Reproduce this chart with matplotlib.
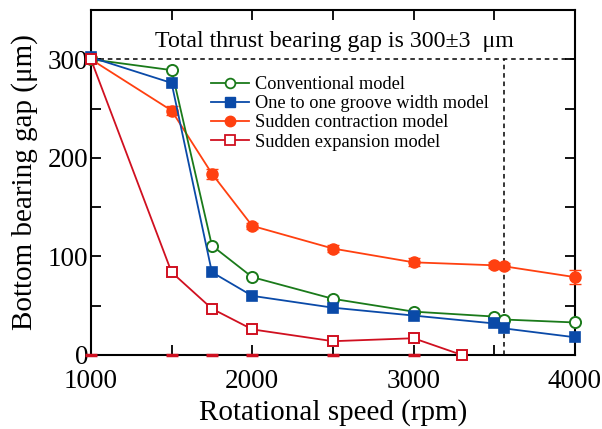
import matplotlib
matplotlib.use("Agg")
import matplotlib.pyplot as plt
from matplotlib.lines import Line2D

plt.rcParams['font.family'] = ['Liberation Serif', 'DejaVu Serif']
plt.rcParams['mathtext.fontset'] = 'stix'

speed = [1000, 1500, 1750, 2000, 2500, 3000, 3500, 3560, 4000]
conventional = [300, 289, 111, 79, 57, 44, 39, 36, 33]
one_to_one = [302, 276, 84, 60, 48, 40, 32, 27, 18]
contraction = [300, 248, 184, 131, 108, 94, 91, 90, 79]
contraction_err = [3, 5, 5, 3, 4, 4, 3, 3, 7]
expansion_speed = [1000, 1500, 1750, 2000, 2500, 3000, 3300]
expansion = [300, 84, 47, 26, 14, 17, 0]
zero_speed = [1000, 1500, 1750, 2000, 2500, 3000]
zero_vals = [0, 0, 0, 0, 0, 0]
gap_total = 300
limit_speed = 3560

fig = plt.figure(figsize=(6.02, 4.29), dpi=100)
ax = fig.add_axes([0.151, 0.1725, 0.804, 0.8042])

green = '#1a7a1a'
blue = '#0a4aa8'
orange = '#ff4010'
red = '#d01020'

ax.plot([1000, 4000], [gap_total, gap_total], ls=(0, (3, 2.5)), color='black', lw=1.1, zorder=1)
ax.plot([limit_speed, limit_speed], [0, gap_total], ls=(0, (3, 2.5)), color='black', lw=1.1, zorder=1)

ax.plot(zero_speed, zero_vals, ls='none', marker='_', ms=9, mew=2.5, color=red, clip_on=False, zorder=3)

ax.plot(speed, conventional, '-o', color=green, mfc='white', mec=green, ms=8, mew=1.4, lw=1.3,
        clip_on=False, zorder=5)
ax.plot(speed, one_to_one, '-s', color=blue, mfc=blue, mec=blue, ms=7.5, mew=1.2, lw=1.3,
        clip_on=False, zorder=5)
ax.errorbar(speed, contraction, yerr=contraction_err, fmt='-o', color=orange, mfc=orange, mec=orange,
            ms=8, lw=1.3, capsize=4, elinewidth=1.3, clip_on=False, zorder=4)
ax.plot(expansion_speed, expansion, '-s', color=red, mfc='white', mec=red, ms=7.5, mew=1.4, lw=1.3,
        clip_on=False, zorder=5)

ax.set_xlim(1000, 4000)
ax.set_ylim(0, 350)
ax.set_xticks([1000, 2000, 3000, 4000])
ax.set_xticks([1500, 2500, 3500], minor=True)
ax.set_yticks([0, 100, 200, 300])
ax.set_yticks([50, 150, 250], minor=True)
ax.tick_params(which='both', direction='in', top=True, right=True, width=1.3, labelsize=19.5, pad=2)
ax.tick_params(axis='x', which='both', pad=10)
ax.tick_params(which='major', length=7)
ax.tick_params(which='minor', length=7)
for s in ax.spines.values():
    s.set_linewidth(1.5)

ax.set_xlabel('Rotational speed (rpm)', fontsize=21, labelpad=4)
ax.set_ylabel('Bottom bearing gap (μm)', fontsize=21, labelpad=7)

ax.text(2510, 318, 'Total thrust bearing gap is 300±3  μm', fontsize=17.2, ha='center', va='center')

handles = [
    Line2D([], [], color=green, marker='o', mfc='white', mec=green, ms=7, mew=1.3, lw=1.3),
    Line2D([], [], color=blue, marker='s', mfc=blue, mec=blue, ms=7, lw=1.3),
    Line2D([], [], color=orange, marker='o', mfc=orange, mec=orange, ms=7.5, lw=1.3),
    Line2D([], [], color=red, marker='s', mfc='white', mec=red, ms=7, mew=1.3, lw=1.3),
]
labels = ['Conventional model', 'One to one groove width model',
          'Sudden contraction model', 'Sudden expansion model']
leg = ax.legend(handles, labels, loc='upper left', bbox_to_anchor=(0.232, 0.83), frameon=False,
                fontsize=13.2, labelspacing=0.12, handlelength=2.1, handletextpad=0.35, borderaxespad=0)

fig.savefig('out.png', dpi=100)
